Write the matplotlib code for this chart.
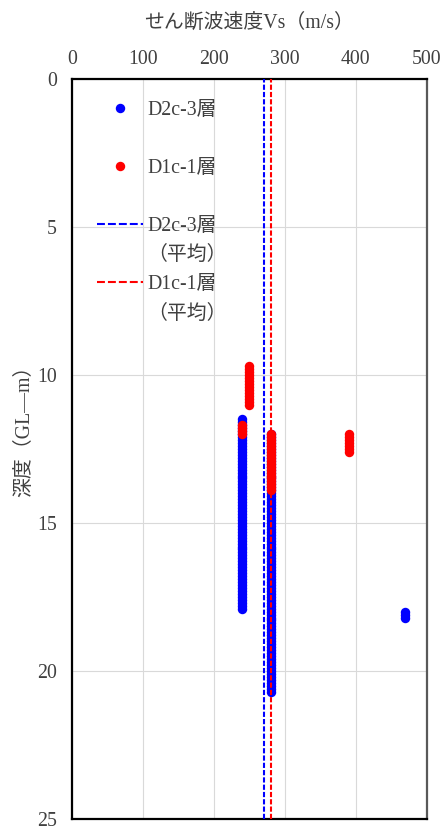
import matplotlib
matplotlib.use('Agg')
import matplotlib.pyplot as plt
from matplotlib.lines import Line2D

plt.rcParams['font.family'] = ['Liberation Serif', 'Noto Sans CJK JP']

# D2c-3層 (blue points): Vs value and the depths read for each column
d2c3_vs = [240, 280, 470]
d2c3_depths = [
    [11.5, 11.6, 11.7, 11.8, 11.9, 12.0, 12.1, 12.2, 12.3, 12.4, 12.5, 12.6, 12.7,
     12.8, 12.9, 13.0, 13.1, 13.2, 13.3, 13.4, 13.5, 13.6, 13.7, 13.8, 13.9, 14.0,
     14.1, 14.2, 14.3, 14.4, 14.5, 14.6, 14.7, 14.8, 14.9, 15.0, 15.1, 15.2, 15.3,
     15.4, 15.5, 15.6, 15.7, 15.8, 15.9, 16.0, 16.1, 16.2, 16.3, 16.4, 16.5, 16.6,
     16.7, 16.8, 16.9, 17.0, 17.1, 17.2, 17.3, 17.4, 17.5, 17.6, 17.7, 17.8, 17.9],
    [12.0, 12.1, 12.2, 12.3, 12.4, 12.5, 12.6, 12.7, 12.8, 12.9, 13.0, 13.1, 13.2,
     13.3, 13.4, 13.5, 13.6, 13.7, 13.8, 13.9, 14.0, 14.1, 14.2, 14.3, 14.4, 14.5,
     14.6, 14.7, 14.8, 14.9, 15.0, 15.1, 15.2, 15.3, 15.4, 15.5, 15.6, 15.7, 15.8,
     15.9, 16.0, 16.1, 16.2, 16.3, 16.4, 16.5, 16.6, 16.7, 16.8, 16.9, 17.0, 17.1,
     17.2, 17.3, 17.4, 17.5, 17.6, 17.7, 17.8, 17.9, 18.0, 18.1, 18.2, 18.3, 18.4,
     18.5, 18.6, 18.7, 18.8, 18.9, 19.0, 19.1, 19.2, 19.3, 19.4, 19.5, 19.6, 19.7,
     19.8, 19.9, 20.0, 20.1, 20.2, 20.3, 20.4, 20.5, 20.6, 20.7],
    [18.0, 18.1, 18.2],
]

# D1c-1層 (red points)
d1c1_vs = [250, 240, 280, 390]
d1c1_depths = [
    [9.7, 9.8, 9.9, 10.0, 10.1, 10.2, 10.3, 10.4, 10.5, 10.6, 10.7, 10.8, 10.9, 11.0],
    [11.7, 11.8, 11.9, 12.0],
    [12.0, 12.1, 12.2, 12.3, 12.4, 12.5, 12.6, 12.7, 12.8, 12.9, 13.0, 13.1, 13.2,
     13.3, 13.4, 13.5, 13.6, 13.7, 13.8, 13.9],
    [12.0, 12.1, 12.2, 12.3, 12.4, 12.5, 12.6],
]

# layer averages
d2c3_mean = 270
d1c1_mean = 280

x_ticks = [0, 100, 200, 300, 400, 500]
y_ticks = [0, 5, 10, 15, 20, 25]

blue = '#0000FF'
red = '#FF0000'
txt = '#404040'
fs = 14.3


def flatten(vs, depths):
    xs, ys = [], []
    for v, ds in zip(vs, depths):
        xs += [v] * len(ds)
        ys += ds
    return xs, ys


fig = plt.figure(figsize=(4.43, 8.27), dpi=100)
ax = fig.add_axes([0.1632, 0.010, 0.800, 0.8944])

bx, by = flatten(d2c3_vs, d2c3_depths)
rx, ry = flatten(d1c1_vs, d1c1_depths)
ax.plot(bx, by, 'o', color=blue, markersize=6.8, markeredgewidth=0, zorder=3)
ax.plot(rx, ry, 'o', color=red, markersize=6.8, markeredgewidth=0, zorder=3)
ax.axvline(d2c3_mean, color=blue, lw=1.5, dashes=(2.5, 1.0), zorder=4)
ax.axvline(d1c1_mean, color=red, lw=1.5, dashes=(2.5, 1.0), zorder=4)

ax.set_xlim(0, 500)
ax.set_ylim(25, 0)
ax.set_xticks(x_ticks)
ax.set_yticks(y_ticks)
ax.xaxis.tick_top()
ax.tick_params(axis='x', length=0, pad=7, labelsize=fs, labelcolor=txt)
ax.tick_params(axis='y', length=0, pad=11, labelsize=fs, labelcolor=txt)
ax.grid(True, color='#d9d9d9', lw=0.8, zorder=0)
ax.set_axisbelow(True)
for side in ['left', 'top', 'bottom']:
    ax.spines[side].set_color('black')
    ax.spines[side].set_linewidth(1.6)
ax.spines['right'].set_color('#595959')
ax.spines['right'].set_linewidth(1.6)

ax.xaxis.set_label_position('top')
ax.set_xlabel('せん断波速度Vs（m/s）', fontsize=fs, color=txt)
ax.xaxis.set_label_coords(0.5, 1.069)
ax.set_ylabel('深度（GL―m）', fontsize=fs, color=txt)
ax.yaxis.set_label_coords(-0.108, 0.53)

blank = Line2D([], [], linestyle='none')
handles = [
    Line2D([], [], linestyle='none', marker='o', color=blue, markersize=6.8, markeredgewidth=0),
    blank,
    Line2D([], [], linestyle='none', marker='o', color=red, markersize=6.8, markeredgewidth=0),
    blank,
    Line2D([], [], color=blue, lw=1.5, dashes=(3.8, 1.45)),
    blank,
    Line2D([], [], color=red, lw=1.5, dashes=(3.8, 1.45)),
    blank,
]
labels = ['D2c-3層', ' ', 'D1c-1層', ' ', 'D2c-3層', '（平均）', 'D1c-1層', '（平均）']
leg = ax.legend(handles, labels, loc='upper left', bbox_to_anchor=(0.0705, 0.971),
                frameon=False, fontsize=fs, labelcolor=txt, borderpad=0,
                borderaxespad=0, handlelength=2.3, handletextpad=0.2,
                labelspacing=0.51, numpoints=1)

fig.savefig('out.png', dpi=100)
